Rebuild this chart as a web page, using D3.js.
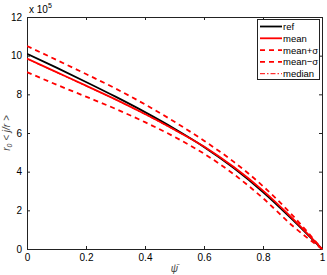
<!DOCTYPE html>
<html>
<head>
<meta charset="utf-8">
<script src="https://cdn.jsdelivr.net/npm/d3@7/dist/d3.min.js"></script>
<style>
  body { margin: 0; background: #fff; }
  svg { display: block; font-family: "Liberation Sans", Arial, sans-serif; }
</style>
</head>
<body>
<div id="chart"></div>
<script>
// psi grid and series (values in units of 1e5)
const psi = [0, 0.1, 0.2, 0.3, 0.4, 0.5, 0.6, 0.7, 0.8, 0.9, 1.0];
const refVals = [10.1, 9.38, 8.64, 7.88, 7.08, 6.22, 5.28, 4.2, 2.95, 1.52, 0];
const meanVals = [9.85, 9.15, 8.45, 7.74, 6.98, 6.17, 5.3, 4.25, 3.02, 1.58, 0];
const plusVals = [10.5, 9.78, 9.05, 8.3, 7.48, 6.58, 5.6, 4.52, 3.25, 1.74, 0];
const minusVals = [9.15, 8.5, 7.88, 7.25, 6.56, 5.8, 4.93, 3.88, 2.63, 1.2, 0];
const medianVals = [9.83, 9.13, 8.43, 7.72, 6.96, 6.15, 5.28, 4.23, 3.0, 1.56, 0];

const xTicks = [0, 0.2, 0.4, 0.6, 0.8, 1];
const yTicks = [0, 2, 4, 6, 8, 10, 12];

const series = [
    { name: "ref", values: refVals, color: "#000", dash: null, width: 1.8 },
    { name: "mean", values: meanVals, color: "#f00", dash: null, width: 1.8 },
    { name: "mean+\u03c3", values: plusVals, color: "#f00", dash: "5,4", width: 1.8 },
    { name: "mean\u2212\u03c3", values: minusVals, color: "#f00", dash: "5,4", width: 1.8 },
    { name: "median", values: medianVals, color: "#f00", dash: "5,2,1.5,2", width: 1 }
];

const width = 327, height = 275;
const margin = { left: 27, right: 5, top: 17, bottom: 26 };

const svg = d3.select("#chart").append("svg")
    .attr("width", width)
    .attr("height", height);

const x = d3.scaleLinear().domain([0, 1]).range([margin.left, width - margin.right]);
const y = d3.scaleLinear().domain([0, 12]).range([height - margin.bottom, margin.top]);

// Clip for the data lines
svg.append("clipPath").attr("id", "clip")
    .append("rect")
    .attr("x", x(0)).attr("y", y(12))
    .attr("width", x(1) - x(0) + 2).attr("height", y(0) - y(12) + 2);

// Axes (MATLAB-style box with inward ticks)
const tickLen = 3;
const axisBottom = d3.axisBottom(x).tickValues(xTicks).tickSizeInner(-tickLen).tickSizeOuter(0)
    .tickFormat(d => d === 0 || d === 1 ? d3.format("d")(d) : d3.format(".1f")(d)).tickPadding(5);
const axisTop = d3.axisTop(x).tickValues(xTicks).tickSizeInner(-tickLen).tickSizeOuter(0).tickFormat("");
const axisLeft = d3.axisLeft(y).tickValues(yTicks).tickSizeInner(-tickLen).tickSizeOuter(0).tickPadding(5);
const axisRight = d3.axisRight(y).tickValues(yTicks).tickSizeInner(-tickLen).tickSizeOuter(0).tickFormat("");

svg.append("g").attr("transform", `translate(0,${y(0)})`).call(axisBottom);
svg.append("g").attr("transform", `translate(0,${y(12)})`).call(axisTop);
svg.append("g").attr("transform", `translate(${x(0)},0)`).call(axisLeft);
svg.append("g").attr("transform", `translate(${x(1)},0)`).call(axisRight);

svg.selectAll(".domain").attr("stroke", "#222");
svg.selectAll(".tick line").attr("stroke", "#222");
svg.selectAll(".tick text").attr("font-size", 10).attr("fill", "#000")
    .attr("font-family", "Liberation Sans, Arial, sans-serif");

// Exponent label
const expo = svg.append("text")
    .attr("x", x(0) + 2)
    .attr("y", y(12) - 4)
    .attr("font-size", 10);
expo.append("tspan").text("x 10");
expo.append("tspan").attr("font-size", 7).attr("dy", -5).text("5");

// Lines
const line = d3.line()
    .x((d, i) => x(psi[i]))
    .y(d => y(d))
    .curve(d3.curveMonotoneX);

const lines = svg.append("g").attr("clip-path", "url(#clip)");
series.forEach(s => {
    lines.append("path")
        .datum(s.values)
        .attr("d", line)
        .attr("fill", "none")
        .attr("stroke", s.color)
        .attr("stroke-width", s.width)
        .attr("stroke-dasharray", s.dash);
});

// Legend
const legend = svg.append("g").attr("transform", "translate(257,19)");
legend.append("rect")
    .attr("x", 0.5).attr("y", 0.5)
    .attr("width", 62).attr("height", 60)
    .attr("fill", "#fff")
    .attr("stroke", "#222")
    .attr("stroke-width", 1);
series.forEach((s, i) => {
    const ly = 7.5 + i * 11.8;
    legend.append("line")
        .attr("x1", 3).attr("x2", 25)
        .attr("y1", ly).attr("y2", ly)
        .attr("stroke", s.color)
        .attr("stroke-width", s.width)
        .attr("stroke-dasharray", s.dash);
    legend.append("text")
        .attr("x", 26).attr("y", ly + 3.5)
        .attr("font-size", 9.5)
        .text(s.name);
});

// Axis labels
svg.append("text")
    .attr("x", x(0.5))
    .attr("y", height - 3)
    .attr("text-anchor", "middle")
    .attr("font-size", 10)
    .attr("font-style", "italic")
    .attr("fill", "#444")
    .text("\u03c8\u0304");

const yl = svg.append("text")
    .attr("transform", `translate(10,${y(6)}) rotate(-90)`)
    .attr("text-anchor", "middle")
    .attr("font-size", 10)
    .attr("font-style", "italic")
    .attr("fill", "#444");
yl.append("tspan").text("r");
yl.append("tspan").attr("font-size", 7).attr("dy", 2).text("0");
yl.append("tspan").attr("dy", -2).text(" < j/r >");
</script>
</body>
</html>
